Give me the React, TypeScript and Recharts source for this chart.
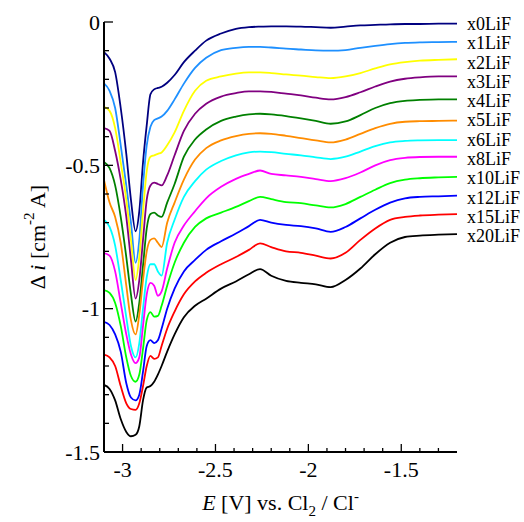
import React from "react";
import { LineChart, Line, XAxis, YAxis } from "recharts";

// potential grid [V vs Cl2/Cl-]
const potential = [
  -3.1, -3.07, -3.04, -3.01, -2.98, -2.955, -2.93, -2.91, -2.89, -2.87, -2.85, -2.83,
  -2.81, -2.79, -2.76, -2.72, -2.67, -2.61, -2.55, -2.47, -2.39, -2.32, -2.26, -2.2,
  -2.12, -2.04, -1.96, -1.88, -1.8, -1.72, -1.64, -1.56, -1.48, -1.4, -1.3, -1.2,
];

const x0LiF = [-0.105,-0.128,-0.175,-0.3,-0.46,-0.62,-0.73,-0.66,-0.49,-0.36,-0.252,-0.235,-0.23,-0.226,-0.212,-0.185,-0.14,-0.1,-0.065,-0.04,-0.024,-0.018,-0.016,-0.015,-0.015,-0.016,-0.018,-0.02,-0.016,-0.012,-0.01,-0.008,-0.007,-0.007,-0.006,-0.006];
const x1LiF = [-0.214,-0.24,-0.3,-0.43,-0.57,-0.7,-0.84,-0.76,-0.57,-0.43,-0.365,-0.342,-0.336,-0.33,-0.31,-0.27,-0.215,-0.16,-0.125,-0.098,-0.09,-0.087,-0.087,-0.089,-0.093,-0.096,-0.099,-0.1,-0.098,-0.09,-0.083,-0.077,-0.073,-0.071,-0.07,-0.069];
const x2LiF = [-0.296,-0.31,-0.37,-0.49,-0.62,-0.76,-0.9,-0.82,-0.66,-0.52,-0.47,-0.465,-0.46,-0.455,-0.43,-0.385,-0.31,-0.24,-0.205,-0.19,-0.18,-0.176,-0.176,-0.178,-0.183,-0.187,-0.192,-0.196,-0.19,-0.178,-0.162,-0.148,-0.14,-0.135,-0.132,-0.13];
const x3LiF = [-0.37,-0.38,-0.45,-0.55,-0.68,-0.83,-0.965,-0.9,-0.76,-0.62,-0.57,-0.56,-0.565,-0.57,-0.535,-0.465,-0.38,-0.32,-0.285,-0.26,-0.248,-0.242,-0.242,-0.244,-0.25,-0.256,-0.264,-0.27,-0.262,-0.245,-0.225,-0.208,-0.198,-0.193,-0.19,-0.19];
const x4LiF = [-0.488,-0.51,-0.57,-0.68,-0.82,-0.95,-1.045,-0.98,-0.85,-0.72,-0.67,-0.665,-0.675,-0.68,-0.63,-0.565,-0.47,-0.41,-0.375,-0.345,-0.33,-0.322,-0.32,-0.322,-0.328,-0.336,-0.345,-0.355,-0.347,-0.325,-0.3,-0.283,-0.275,-0.272,-0.27,-0.27];
const x5LiF = [-0.551,-0.63,-0.68,-0.77,-0.92,-1.04,-1.09,-1.02,-0.9,-0.8,-0.76,-0.755,-0.77,-0.785,-0.7,-0.63,-0.55,-0.48,-0.44,-0.413,-0.398,-0.39,-0.388,-0.39,-0.397,-0.405,-0.413,-0.42,-0.41,-0.39,-0.37,-0.355,-0.348,-0.346,-0.345,-0.344];
const x6LiF = [-0.69,-0.715,-0.78,-0.9,-1.03,-1.13,-1.17,-1.12,-1.0,-0.89,-0.845,-0.845,-0.87,-0.885,-0.77,-0.69,-0.61,-0.555,-0.515,-0.485,-0.465,-0.455,-0.452,-0.454,-0.46,-0.465,-0.472,-0.478,-0.47,-0.452,-0.433,-0.42,-0.415,-0.413,-0.412,-0.412];
const x8LiF = [-0.806,-0.815,-0.87,-0.98,-1.09,-1.16,-1.19,-1.17,-1.06,-0.95,-0.91,-0.92,-0.955,-0.94,-0.86,-0.77,-0.71,-0.66,-0.615,-0.575,-0.547,-0.53,-0.518,-0.53,-0.535,-0.54,-0.548,-0.555,-0.545,-0.525,-0.5,-0.482,-0.474,-0.471,-0.47,-0.47];
const x10LiF = [-0.935,-0.945,-0.98,-1.06,-1.17,-1.235,-1.255,-1.23,-1.14,-1.04,-1.012,-1.028,-1.025,-0.99,-0.92,-0.84,-0.77,-0.715,-0.685,-0.665,-0.645,-0.625,-0.61,-0.618,-0.628,-0.632,-0.64,-0.647,-0.635,-0.61,-0.585,-0.562,-0.55,-0.545,-0.542,-0.54];
const x12LiF = [-1.046,-1.057,-1.09,-1.15,-1.26,-1.31,-1.32,-1.3,-1.22,-1.13,-1.11,-1.12,-1.11,-1.07,-1.0,-0.93,-0.87,-0.83,-0.795,-0.765,-0.738,-0.712,-0.69,-0.7,-0.708,-0.712,-0.72,-0.732,-0.715,-0.685,-0.655,-0.63,-0.615,-0.61,-0.608,-0.606];
const x15LiF = [-1.16,-1.17,-1.2,-1.27,-1.33,-1.35,-1.353,-1.33,-1.27,-1.2,-1.165,-1.175,-1.17,-1.13,-1.07,-1.01,-0.95,-0.905,-0.875,-0.845,-0.82,-0.795,-0.772,-0.785,-0.8,-0.805,-0.815,-0.825,-0.805,-0.76,-0.72,-0.69,-0.68,-0.675,-0.672,-0.67];
const x20LiF = [-1.266,-1.28,-1.32,-1.385,-1.43,-1.445,-1.44,-1.41,-1.32,-1.275,-1.27,-1.255,-1.23,-1.2,-1.15,-1.09,-1.03,-0.99,-0.965,-0.93,-0.905,-0.88,-0.862,-0.885,-0.903,-0.91,-0.915,-0.925,-0.9,-0.86,-0.81,-0.77,-0.75,-0.745,-0.742,-0.74];

const seriesNames = ["x0LiF", "x1LiF", "x2LiF", "x3LiF", "x4LiF", "x5LiF", "x6LiF", "x8LiF", "x10LiF", "x12LiF", "x15LiF", "x20LiF"];
const seriesValues = [x0LiF, x1LiF, x2LiF, x3LiF, x4LiF, x5LiF, x6LiF, x8LiF, x10LiF, x12LiF, x15LiF, x20LiF];
const seriesColors = ["#000080", "#1e90ff", "#ffff00", "#800080", "#008000", "#ff8c00", "#00ffff", "#ff00ff", "#00ff00", "#0000ff", "#ff0000", "#000000"];

const xTicks = [-3.1, -3.0, -2.9, -2.8, -2.7, -2.6, -2.5, -2.4, -2.3, -2.2, -2.1, -2.0, -1.9, -1.8, -1.7, -1.6, -1.5, -1.4, -1.3];
const xMajor = [-3, -2.5, -2, -1.5];
const yTicks = [0, -0.1, -0.2, -0.3, -0.4, -0.5, -0.6, -0.7, -0.8, -0.9, -1.0, -1.1, -1.2, -1.3, -1.4, -1.5];
const yMajor = [0, -0.5, -1, -1.5];

const FONT = "'Liberation Serif', 'Times New Roman', serif";

const data = potential.map((v, k) => {
  const row: Record<string, number> = { v };
  seriesNames.forEach((name, s) => (row[name] = seriesValues[s][k]));
  return row;
});

const isMajor = (v: number, list: number[]) => list.some((m) => Math.abs(m - v) < 1e-6);

function BottomTick(props: any) {
  const { x, y, payload } = props;
  const major = isMajor(payload.value, xMajor);
  return (
    <g>
      <line x1={x} y1={y} x2={x} y2={y - (major ? 8 : 4)} stroke="#000" strokeWidth={1.3} />
      {major && (
        <text x={x} y={y + 17} textAnchor="middle" dominantBaseline="central" fontFamily={FONT} fontSize={22} fill="#000">
          {String(payload.value)}
        </text>
      )}
    </g>
  );
}

function TopTick(props: any) {
  const { x, y, payload } = props;
  const major = isMajor(payload.value, xMajor);
  return <line x1={x} y1={y} x2={x} y2={y + (major ? 8 : 4)} stroke="#000" strokeWidth={1.3} />;
}

function LeftTick(props: any) {
  const { x, y, payload } = props;
  const major = isMajor(payload.value, yMajor);
  return (
    <g>
      <line x1={x} y1={y} x2={x + (major ? 9 : 5)} y2={y} stroke="#000" strokeWidth={1.3} />
      {major && (
        <text x={x - 4} y={y} textAnchor="end" dominantBaseline="central" fontFamily={FONT} fontSize={22} fill="#000">
          {String(payload.value)}
        </text>
      )}
    </g>
  );
}

function RightTick(props: any) {
  const { x, y, payload } = props;
  const major = isMajor(payload.value, yMajor);
  return <line x1={x} y1={y} x2={x - (major ? 9 : 5)} y2={y} stroke="#000" strokeWidth={1.3} />;
}

function XTitle(props: any) {
  const { x, y, width } = props.viewBox;
  return (
    <text x={x + width / 2} y={y + 58} textAnchor="middle" fontFamily={FONT} fontSize={22} fill="#000">
      <tspan fontStyle="italic">E</tspan>
      <tspan> [V] vs. Cl</tspan>
      <tspan dy={6} fontSize={15}>2</tspan>
      <tspan dy={-6}> / Cl</tspan>
      <tspan dy={-9} fontSize={15}>-</tspan>
    </text>
  );
}

function YTitle(props: any) {
  const { y, height } = props.viewBox;
  const cx = 37;
  const cy = y + height / 2;
  return (
    <text x={cx} y={cy} transform={`rotate(-90, ${cx}, ${cy})`} textAnchor="middle" dominantBaseline="central" fontFamily={FONT} fontSize={22} fill="#000">
      <tspan>Δ </tspan>
      <tspan fontStyle="italic">i</tspan>
      <tspan> [cm</tspan>
      <tspan dy={-8} fontSize={15}>-2</tspan>
      <tspan dy={8}> A]</tspan>
    </text>
  );
}

export default function App() {
  return (
    <div style={{ position: "absolute", left: 0, top: 0, width: 524, height: 522, background: "#fff" }}>
      <LineChart width={524} height={522} data={data} margin={{ top: 22, right: 67, bottom: 0, left: 0 }}>
        <XAxis
          dataKey="v"
          type="number"
          domain={[-3.1, -1.2]}
          allowDataOverflow
          ticks={xTicks}
          interval={0}
          tickSize={0}
          tickMargin={0}
          tick={<BottomTick />}
          tickLine={false}
          axisLine={{ stroke: "#000", strokeWidth: 2 }}
          height={70}
          label={<XTitle />}
        />
        <XAxis
          xAxisId="top"
          orientation="top"
          dataKey="v"
          type="number"
          domain={[-3.1, -1.2]}
          allowDataOverflow
          ticks={xTicks}
          interval={0}
          tickSize={0}
          tickMargin={0}
          tick={<TopTick />}
          tickLine={false}
          axisLine={{ stroke: "#000", strokeWidth: 2 }}
          height={0}
        />
        <YAxis
          type="number"
          domain={[-1.5, 0]}
          allowDataOverflow
          ticks={yTicks}
          interval={0}
          tickSize={0}
          tickMargin={0}
          tick={<LeftTick />}
          tickLine={false}
          axisLine={{ stroke: "#000", strokeWidth: 2 }}
          width={104}
          label={<YTitle />}
        />
        <YAxis
          yAxisId="right"
          orientation="right"
          type="number"
          domain={[-1.5, 0]}
          allowDataOverflow
          ticks={yTicks}
          interval={0}
          tickSize={0}
          tickMargin={0}
          tick={<RightTick />}
          tickLine={false}
          axisLine={{ stroke: "#000", strokeWidth: 2 }}
          width={0}
        />
        {seriesNames.map((name, s) => (
          <Line
            key={name}
            dataKey={name}
            type="monotone"
            stroke={seriesColors[s]}
            strokeWidth={1.8}
            dot={false}
            isAnimationActive={false}
          />
        ))}
      </LineChart>
      <div style={{ position: "absolute", left: 467, top: 15, fontFamily: FONT, fontSize: 18, lineHeight: "19.3px", color: "#000" }}>
        {seriesNames.map((name) => (
          <div key={name}>{name}</div>
        ))}
      </div>
    </div>
  );
}
